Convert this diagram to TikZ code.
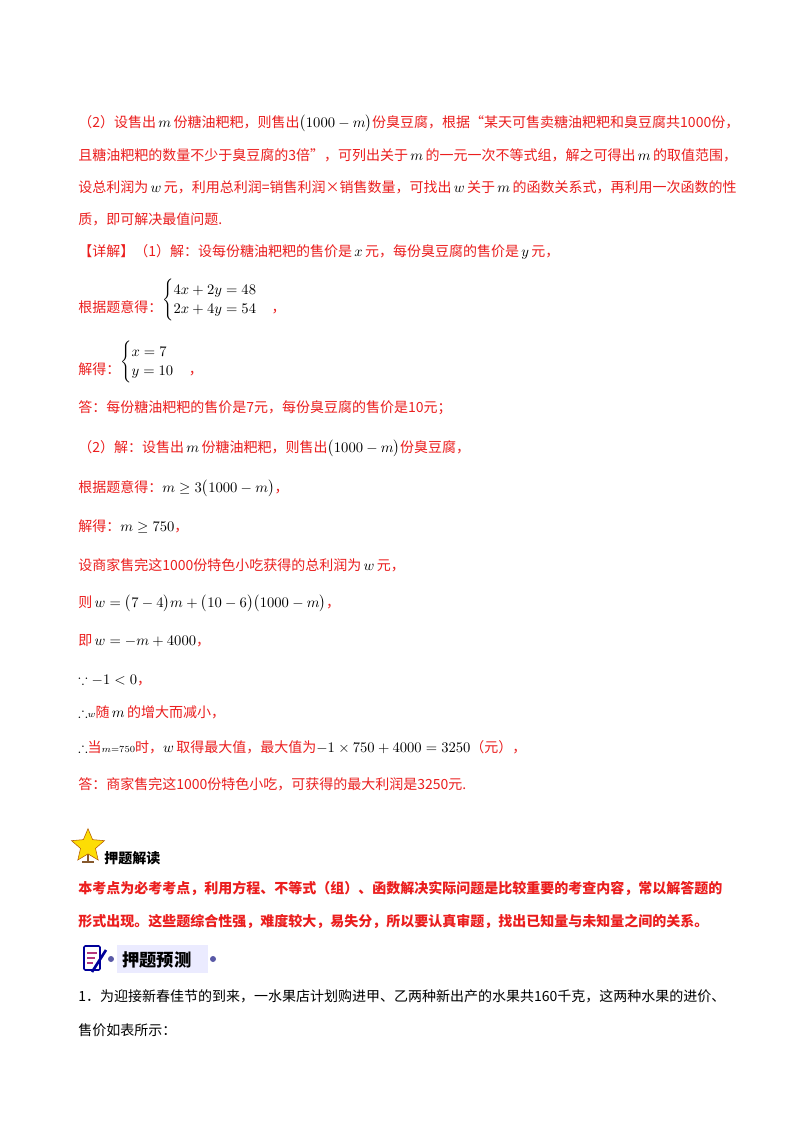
\documentclass[tikz,border=0pt]{standalone}
\usepackage{amsmath,amssymb}
\usepackage{fontspec}
\setmainfont{Noto Sans CJK SC}
\usetikzlibrary{shapes.geometric}
\newcommand{\mm}[1]{{\color{black}$#1$}}
\definecolor{rd}{RGB}{235,30,30}
\begin{document}
\begin{tikzpicture}[x=0.75pt,y=-0.75pt,
  ln/.style={anchor=base west,inner sep=0pt,font=\fontsize{10.5pt}{12pt}\selectfont,text=rd},
  bd/.style={ln,font=\fontsize{10.5pt}{12pt}\selectfont\bfseries},
  bk/.style={ln,text=black}]
\useasboundingbox (0,0) rectangle (800,1132);
\fill[white] (0,0) rectangle (800,1132);
\node[ln] (l1) at (78,127) {（2）设售出\,\mm{m}\,份糖油粑粑，则售出\mm{\bigl(1000-m\bigr)}份臭豆腐，根据“某天可售卖糖油粑粑和臭豆腐共1000份，};
\node[ln] (l2) at (78,160) {且糖油粑粑的数量不少于臭豆腐的3倍”，可列出关于\,\mm{m}\,的一元一次不等式组，解之可得出\,\mm{m}\,的取值范围，};
\node[ln] (l3) at (78,192) {设总利润为\,\mm{w}\,元，利用总利润=销售利润×销售数量，可找出\,\mm{w}\,关于\,\mm{m}\,的函数关系式，再利用一次函数的性};
\node[ln] (l4) at (78,224) {质，即可解决最值问题.};
\node[ln] (l5) at (78,256) {【详解】（1）解：设每份糖油粑粑的售价是\,\mm{x}\,元，每份臭豆腐的售价是\,\mm{y}\,元，};
\node[ln] (l6) at (78,312) {根据题意得：\raisebox{6pt}{\mm{\begin{cases}4x+2y=48\\2x+4y=54\end{cases}}}，};
\node[ln] (l7) at (78,374) {解得：\raisebox{6pt}{\mm{\begin{cases}x=7\\y=10\end{cases}}}，};
\node[ln] (l8) at (78,412) {答：每份糖油粑粑的售价是7元，每份臭豆腐的售价是10元；};
\node[ln] (l9) at (78,452) {（2）解：设售出\,\mm{m}\,份糖油粑粑，则售出\mm{\bigl(1000-m\bigr)}份臭豆腐，};
\node[ln] (l10) at (78,492) {根据题意得：\mm{m\ge 3\bigl(1000-m\bigr)}，};
\node[ln] (l11) at (78,531) {解得：\mm{m\ge 750}，};
\node[ln] (l12) at (78,570) {设商家售完这1000份特色小吃获得的总利润为\,\mm{w}\,元，};
\node[ln] (l13) at (78,607) {则\,\mm{w=\bigl(7-4\bigr)m+\bigl(10-6\bigr)\bigl(1000-m\bigr)}，};
\node[ln] (l14) at (78,645) {即\,\mm{w=-m+4000}，};
\node[ln] (l15) at (78,684) {\mm{\because -1<0}，};
\node[ln] (l16) at (78,717) {\mm{\therefore}{\color{black}\scriptsize$w$}随\,\mm{m}\,的增大而减小，};
\node[ln] (l17) at (78,752) {\mm{\therefore}当\mm{\scriptstyle m=750}时，\mm{w}\,取得最大值，最大值为\mm{-1\times750+4000=3250}（元），};
\node[ln] (l18) at (78,789) {答：商家售完这1000份特色小吃，可获得的最大利润是3250元.};
% star icon
\draw[thick,brown!70!black] (88,850) -- (88,862) (82,862) -- (94,862);
\node[star,star points=5,star point ratio=2.2,fill=yellow!80!orange,draw=orange!70!black,minimum size=26pt,inner sep=0pt] (st) at (88,846) {};
\node[bk,font=\fontsize{10.5pt}{12pt}\selectfont\bfseries] (h1) at (104,863) {押题解读};
\node[bd] (b1) at (78,893) {本考点为必考考点，利用方程、不等式（组）、函数解决实际问题是比较重要的考查内容，常以解答题的};
\node[bd] (b2) at (78,926) {形式出现。这些题综合性强，难度较大，易失分，所以要认真审题，找出已知量与未知量之间的关系。};
% banner
\draw[rounded corners=1pt,fill=white,draw=blue!60!black,line width=1.2pt] (84,946) rectangle (100,970);
\draw[line width=0.8pt,magenta!70!black] (87,953)--(97,953) (87,958)--(95,958) (87,963)--(93,963);
\draw[line width=2pt,blue!60!black] (92,972) -- (106,950);
\fill[blue!30!gray] (111,959) circle (3);
\fill[blue!8] (117,945) rectangle (208,973);
\node[bk,font=\fontsize{13pt}{14pt}\selectfont\bfseries] (h2) at (122,966) {押题预测};
\fill[blue!30!gray] (213,959) circle (3);
\node[bk] (q1) at (78,1001) {1．为迎接新春佳节的到来，一水果店计划购进甲、乙两种新出产的水果共160千克，这两种水果的进价、};
\node[bk] (q2) at (78,1035) {售价如表所示：};
\end{tikzpicture}
\end{document}
